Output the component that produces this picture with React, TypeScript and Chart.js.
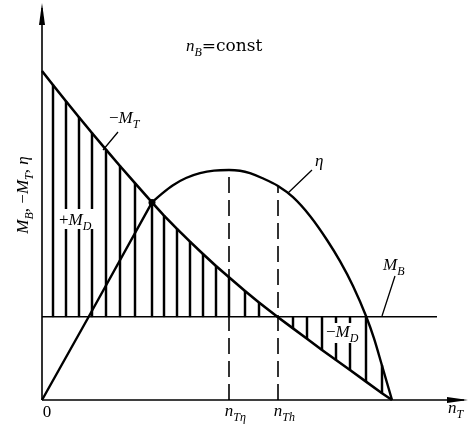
import { useEffect, useRef } from "react";
import { Chart, registerables } from "chart.js";

Chart.register(...registerables);

// Turbine speed n_T where the −M_T curve and the hatch lines are read
const nT = [
  0, 0.275, 0.6, 0.925, 1.25, 1.6, 1.95, 2.325, 2.75, 3.05, 3.375, 3.7, 4.025,
  4.35, 4.675, 5.075, 5.425, 5.9, 6.275, 6.625, 7.0, 7.35, 7.7, 8.1, 8.5, 8.75,
];
// −M_T at those speeds
const minusMT = [
  8.225, 7.875, 7.47, 7.07, 6.675, 6.26, 5.85, 5.42, 4.94, 4.61, 4.28, 3.96,
  3.65, 3.35, 3.07, 2.725, 2.44, 2.07, 1.79, 1.53, 1.25, 1.0, 0.75, 0.46, 0.17, 0,
];
// M_B is constant over the speed range
const MB = 2.08;
const MBspan = [0, 9.875];
// Efficiency η (rises straight up to the −M_T crossing, then arcs over)
const etaN = [
  0, 1.15, 2.75, 3.0, 3.275, 3.6, 3.95, 4.3, 4.675, 4.95, 5.2, 5.5, 5.9, 6.275,
  6.7, 7.125, 7.45, 7.775, 8.1, 8.3, 8.5, 8.75,
];
const eta = [
  0, 2.05, 4.94, 5.16, 5.37, 5.55, 5.67, 5.735, 5.75, 5.73, 5.67, 5.55, 5.35,
  5.07, 4.6, 4.0, 3.47, 2.85, 2.1, 1.54, 0.86, 0,
];
// Marked speeds
const nTeta = 4.675; // best efficiency
const nTh = 5.9; // −M_T = M_B
const crossIndex = 8; // η meets −M_T (index in nT)
const etaKnee = 2; // index in etaN where the straight rise ends

type Part = { t: string; it?: boolean; sub?: boolean; fam?: string };

function drawRich(
  ctx: CanvasRenderingContext2D,
  parts: Part[],
  x: number,
  y: number,
  size: number,
  align: "left" | "center" = "left",
  anchorFirst = false
) {
  const fontOf = (p: Part) =>
    `${p.it ? "italic " : ""}${p.sub ? Math.round(size * 0.72) : size}px ${p.fam ?? '"Liberation Serif"'}`;
  const widths = parts.map((p) => {
    ctx.font = fontOf(p);
    return ctx.measureText(p.t).width;
  });
  const total = widths.reduce((a, b) => a + b, 0);
  let cx = x;
  if (anchorFirst) cx = x - widths[0] / 2;
  else if (align === "center") cx = x - total / 2;
  ctx.textAlign = "left";
  ctx.textBaseline = "alphabetic";
  parts.forEach((p, i) => {
    ctx.font = fontOf(p);
    ctx.fillText(p.t, cx, y + (p.sub ? size * 0.28 : 0));
    cx += widths[i];
  });
  return total;
}

const decorations = {
  id: "decorations",
  afterDatasetsDraw(chart: Chart) {
    const ctx = chart.ctx;
    const xs = chart.scales.x;
    const ys = chart.scales.y;
    const x0 = xs.getPixelForValue(0);
    const y0 = ys.getPixelForValue(0);
    ctx.save();
    ctx.strokeStyle = "#000";
    ctx.fillStyle = "#000";
    ctx.lineWidth = 1.6;

    // axes
    ctx.beginPath();
    ctx.moveTo(x0, y0);
    ctx.lineTo(x0, 8);
    ctx.moveTo(x0, y0);
    ctx.lineTo(464, y0);
    ctx.stroke();
    // arrow heads
    ctx.beginPath();
    ctx.moveTo(x0, 3);
    ctx.lineTo(x0 - 3, 25);
    ctx.lineTo(x0 + 3, 25);
    ctx.closePath();
    ctx.fill();
    ctx.beginPath();
    ctx.moveTo(468, y0);
    ctx.lineTo(447, y0 - 3);
    ctx.lineTo(447, y0 + 3);
    ctx.closePath();
    ctx.fill();

    // leader lines
    ctx.lineWidth = 1.3;
    ctx.beginPath();
    ctx.moveTo(118, 132);
    ctx.lineTo(103, 150);
    ctx.moveTo(312, 170);
    ctx.lineTo(288, 193);
    ctx.moveTo(395, 276);
    ctx.lineTo(382, 316);
    ctx.stroke();

    // blank patches behind the labels inside the hatching
    ctx.fillStyle = "#fff";
    ctx.fillRect(59, 209, 42, 20);
    ctx.fillRect(326, 323, 37, 20);
    ctx.fillStyle = "#000";

    // labels
    drawRich(ctx, [{ t: "n", it: true }, { t: "B", it: true, sub: true }, { t: "=const", fam: '"DejaVu Serif"' }], 186, 51, 17);
    drawRich(ctx, [{ t: "−" }, { t: "M", it: true }, { t: "T", it: true, sub: true }], 109, 123, 17);
    drawRich(ctx, [{ t: "+" }, { t: "M", it: true }, { t: "D", it: true, sub: true }], 59, 225, 17);
    drawRich(ctx, [{ t: "η", it: true }], 315, 166, 17);
    drawRich(ctx, [{ t: "M", it: true }, { t: "B", it: true, sub: true }], 383, 270, 17);
    drawRich(ctx, [{ t: "−" }, { t: "M", it: true }, { t: "D", it: true, sub: true }], 326, 337, 17);

    // axis labels
    drawRich(ctx, [{ t: "0" }], x0 + 5, 417, 17, "center");
    drawRich(ctx, [{ t: "n", it: true }, { t: "Tη", it: true, sub: true }], xs.getPixelForValue(nTeta), 416, 17, "left", true);
    drawRich(ctx, [{ t: "n", it: true }, { t: "Th", it: true, sub: true }], xs.getPixelForValue(nTh), 416, 17, "left", true);
    drawRich(ctx, [{ t: "n", it: true }, { t: "T", it: true, sub: true }], 448, 413, 17);

    ctx.save();
    ctx.translate(28, 195);
    ctx.rotate(-Math.PI / 2);
    drawRich(
      ctx,
      [
        { t: "M", it: true },
        { t: "B", it: true, sub: true },
        { t: ", −" },
        { t: "M", it: true },
        { t: "T", it: true, sub: true },
        { t: ", " },
        { t: "η", it: true },
      ],
      0,
      0,
      17,
      "center"
    );
    ctx.restore();
    ctx.restore();
  },
};

export default function App() {
  const ref = useRef<HTMLCanvasElement | null>(null);

  useEffect(() => {
    if (!ref.current) return;

    const mtPoints = nT.map((x, i) => ({ x, y: minusMT[i] }));
    const etaPoints = etaN.map((x, i) => ({ x, y: eta[i] }));
    const etaAt = (n: number) => eta[etaN.indexOf(n)];

    // vertical hatching between −M_T and M_B (upper: +M_D, lower: −M_D)
    const hatch: { x: number; y: [number, number] }[] = [];
    nT.forEach((x, i) => {
      if (i === 0 || i === nT.length - 1 || x === nTh) return;
      const m = minusMT[i];
      if (m > MB) hatch.push({ x, y: [MB, m] });
      else {
        const j = etaN.indexOf(x);
        const top = j >= 0 ? Math.min(MB, eta[j]) : MB;
        hatch.push({ x, y: [m, top] });
      }
    });

    const black = "#000";
    const chart = new Chart(ref.current, {
      type: "line",
      data: {
        datasets: [
          {
            label: "−M_T",
            data: mtPoints,
            borderColor: black,
            backgroundColor: black,
            borderWidth: 2.6,
            pointRadius: nT.map((_, i) => (i === crossIndex ? 3.5 : 0)),
            pointBorderWidth: 0,
            tension: 0,
            clip: false,
          },
          {
            label: "η",
            data: etaPoints.slice(0, etaKnee + 1),
            borderColor: black,
            borderWidth: 2.4,
            pointRadius: 0,
            tension: 0,
            clip: false,
          },
          {
            label: "η",
            data: etaPoints.slice(etaKnee),
            borderColor: black,
            borderWidth: 2.4,
            pointRadius: 0,
            cubicInterpolationMode: "monotone",
            clip: false,
          },
          {
            label: "M_B",
            data: MBspan.map((x) => ({ x, y: MB })),
            borderColor: black,
            borderWidth: 1.6,
            pointRadius: 0,
            clip: false,
          },
          {
            label: "n_Tη",
            data: [
              { x: nTeta, y: 0 },
              { x: nTeta, y: etaAt(nTeta) },
            ],
            borderColor: black,
            borderWidth: 1.6,
            borderDash: [16, 7],
            pointRadius: 0,
          },
          {
            label: "n_Th",
            data: [
              { x: nTh, y: 0 },
              { x: nTh, y: etaAt(nTh) },
            ],
            borderColor: black,
            borderWidth: 1.6,
            borderDash: [16, 7],
            pointRadius: 0,
          },
          {
            type: "bar",
            label: "M_D",
            data: hatch as any,
            backgroundColor: black,
            borderWidth: 0,
            barThickness: 1.8,
            grouped: false,
          } as any,
        ],
      },
      options: {
        responsive: false,
        animation: false,
        devicePixelRatio: 1,
        layout: { padding: { left: 42, right: 3, top: 6, bottom: 24 } },
        plugins: { legend: { display: false }, tooltip: { enabled: false } },
        scales: {
          x: { type: "linear", display: false, offset: false, min: 0, max: 10.575 },
          y: { type: "linear", display: false, min: 0, max: 9.85 },
        },
      },
      plugins: [decorations],
    });
    return () => chart.destroy();
  }, []);

  return (
    <div style={{ position: "fixed", left: 0, top: 0, width: 468, height: 424, background: "#fff" }}>
      <canvas ref={ref} width={468} height={424} />
    </div>
  );
}
